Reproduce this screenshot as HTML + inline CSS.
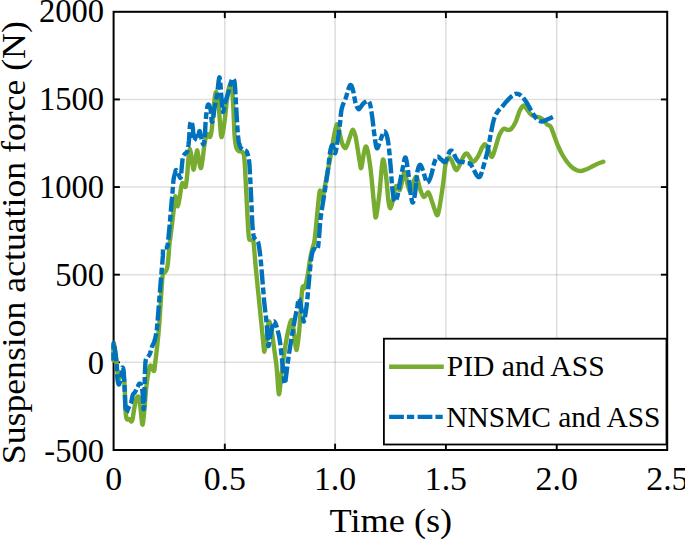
<!DOCTYPE html>
<html><head><meta charset="utf-8"><style>
html,body{margin:0;padding:0;background:#fff;}
body{width:685px;height:540px;overflow:hidden;font-family:"Liberation Serif",serif;}
svg{display:block;}
</style></head><body>
<svg width="685" height="540" viewBox="0 0 685 540">
<rect width="685" height="540" fill="#fff"/>
<line x1="224.80" y1="11.80" x2="224.80" y2="450.00" stroke="#262626" stroke-opacity="0.15" stroke-width="1.6"/>
<line x1="335.10" y1="11.80" x2="335.10" y2="450.00" stroke="#262626" stroke-opacity="0.15" stroke-width="1.6"/>
<line x1="445.90" y1="11.80" x2="445.90" y2="450.00" stroke="#262626" stroke-opacity="0.15" stroke-width="1.6"/>
<line x1="556.70" y1="11.80" x2="556.70" y2="450.00" stroke="#262626" stroke-opacity="0.15" stroke-width="1.6"/>
<line x1="113.60" y1="362.30" x2="667.20" y2="362.30" stroke="#262626" stroke-opacity="0.15" stroke-width="1.6"/>
<line x1="113.60" y1="274.68" x2="667.20" y2="274.68" stroke="#262626" stroke-opacity="0.15" stroke-width="1.6"/>
<line x1="113.60" y1="187.05" x2="667.20" y2="187.05" stroke="#262626" stroke-opacity="0.15" stroke-width="1.6"/>
<line x1="113.60" y1="99.43" x2="667.20" y2="99.43" stroke="#262626" stroke-opacity="0.15" stroke-width="1.6"/>
<rect x="113.60" y="11.80" width="553.60" height="438.20" fill="none" stroke="#000" stroke-width="2.0"/>
<line x1="224.80" y1="450.00" x2="224.80" y2="443.70" stroke="#000" stroke-width="1.9"/>
<line x1="224.80" y1="11.80" x2="224.80" y2="18.10" stroke="#000" stroke-width="1.9"/>
<line x1="335.10" y1="450.00" x2="335.10" y2="443.70" stroke="#000" stroke-width="1.9"/>
<line x1="335.10" y1="11.80" x2="335.10" y2="18.10" stroke="#000" stroke-width="1.9"/>
<line x1="445.90" y1="450.00" x2="445.90" y2="443.70" stroke="#000" stroke-width="1.9"/>
<line x1="445.90" y1="11.80" x2="445.90" y2="18.10" stroke="#000" stroke-width="1.9"/>
<line x1="556.70" y1="450.00" x2="556.70" y2="443.70" stroke="#000" stroke-width="1.9"/>
<line x1="556.70" y1="11.80" x2="556.70" y2="18.10" stroke="#000" stroke-width="1.9"/>
<line x1="113.60" y1="362.30" x2="119.90" y2="362.30" stroke="#000" stroke-width="1.9"/>
<line x1="667.20" y1="362.30" x2="660.90" y2="362.30" stroke="#000" stroke-width="1.9"/>
<line x1="113.60" y1="274.68" x2="119.90" y2="274.68" stroke="#000" stroke-width="1.9"/>
<line x1="667.20" y1="274.68" x2="660.90" y2="274.68" stroke="#000" stroke-width="1.9"/>
<line x1="113.60" y1="187.05" x2="119.90" y2="187.05" stroke="#000" stroke-width="1.9"/>
<line x1="667.20" y1="187.05" x2="660.90" y2="187.05" stroke="#000" stroke-width="1.9"/>
<line x1="113.60" y1="99.43" x2="119.90" y2="99.43" stroke="#000" stroke-width="1.9"/>
<line x1="667.20" y1="99.43" x2="660.90" y2="99.43" stroke="#000" stroke-width="1.9"/>
<path d="M113.50,360.50 C113.53,357.58 113.23,343.08 113.70,343.00 C114.17,342.92 115.75,355.83 116.30,360.00 C116.85,364.17 116.72,365.42 117.00,368.00 C117.28,370.58 117.50,373.83 118.00,375.50 C118.50,377.17 119.25,378.17 120.00,378.00 C120.75,377.83 121.83,374.50 122.50,374.50 C123.17,374.50 123.62,375.42 124.00,378.00 C124.38,380.58 124.55,384.67 124.80,390.00 C125.05,395.33 125.22,405.25 125.50,410.00 C125.78,414.75 126.08,416.92 126.50,418.50 C126.92,420.08 127.50,419.42 128.00,419.50 C128.50,419.58 129.00,418.67 129.50,419.00 C130.00,419.33 130.50,421.42 131.00,421.50 C131.50,421.58 132.00,421.42 132.50,419.50 C133.00,417.58 133.42,413.25 134.00,410.00 C134.58,406.75 135.33,402.25 136.00,400.00 C136.67,397.75 137.42,396.50 138.00,396.50 C138.58,396.50 139.00,397.25 139.50,400.00 C140.00,402.75 140.53,408.92 141.00,413.00 C141.47,417.08 141.88,423.50 142.30,424.50 C142.72,425.50 143.08,422.25 143.50,419.00 C143.92,415.75 144.42,409.50 144.80,405.00 C145.18,400.50 145.43,396.00 145.80,392.00 C146.17,388.00 146.55,384.33 147.00,381.00 C147.45,377.67 148.00,374.50 148.50,372.00 C149.00,369.50 149.50,366.92 150.00,366.00 C150.50,365.08 151.00,365.83 151.50,366.50 C152.00,367.17 152.53,369.33 153.00,370.00 C153.47,370.67 153.92,371.83 154.30,370.50 C154.68,369.17 154.97,364.75 155.30,362.00 C155.63,359.25 155.93,357.17 156.30,354.00 C156.67,350.83 157.13,346.50 157.50,343.00 C157.87,339.50 158.17,336.67 158.50,333.00 C158.83,329.33 159.05,327.43 159.50,321.00 C159.95,314.57 160.65,302.17 161.20,294.40 C161.75,286.63 162.17,278.10 162.80,274.40 C163.43,270.70 164.27,273.30 165.00,272.20 C165.73,271.10 166.65,270.02 167.20,267.80 C167.75,265.58 167.93,262.70 168.30,258.90 C168.67,255.10 169.02,248.82 169.40,245.00 C169.78,241.18 170.22,239.05 170.60,236.00 C170.98,232.95 171.25,230.48 171.70,226.70 C172.15,222.92 172.75,217.92 173.30,213.30 C173.85,208.68 174.62,201.77 175.00,199.00 C175.38,196.23 175.23,195.60 175.60,196.70 C175.97,197.80 176.75,204.32 177.20,205.60 C177.65,206.88 177.83,206.07 178.30,204.40 C178.77,202.73 179.53,198.37 180.00,195.60 C180.47,192.83 180.73,189.85 181.10,187.80 C181.47,185.75 181.73,183.87 182.20,183.30 C182.67,182.73 183.33,183.83 183.90,184.40 C184.47,184.97 185.05,188.27 185.60,186.70 C186.15,185.13 186.72,179.78 187.20,175.00 C187.68,170.22 188.03,162.33 188.50,158.00 C188.97,153.67 189.43,148.78 190.00,149.00 C190.57,149.22 191.33,155.87 191.90,159.30 C192.47,162.73 192.85,169.12 193.40,169.60 C193.95,170.08 194.60,165.40 195.20,162.20 C195.80,159.00 196.38,150.88 197.00,150.40 C197.62,149.92 198.27,156.35 198.90,159.30 C199.53,162.25 200.18,168.10 200.80,168.10 C201.42,168.10 202.00,163.25 202.60,159.30 C203.20,155.35 203.90,147.87 204.40,144.40 C204.90,140.93 205.03,140.23 205.60,138.50 C206.17,136.77 207.07,134.25 207.80,134.00 C208.53,133.75 209.35,137.67 210.00,137.00 C210.65,136.33 211.12,134.50 211.70,130.00 C212.28,125.50 212.95,115.75 213.50,110.00 C214.05,104.25 214.57,98.50 215.00,95.50 C215.43,92.50 215.72,92.08 216.10,92.00 C216.48,91.92 216.90,93.17 217.30,95.00 C217.70,96.83 217.97,97.17 218.50,103.00 C219.03,108.83 220.02,124.33 220.50,130.00 C220.98,135.67 220.98,136.67 221.40,137.00 C221.82,137.33 222.40,135.20 223.00,132.00 C223.60,128.80 224.25,123.97 225.00,117.80 C225.75,111.63 226.63,100.57 227.50,95.00 C228.37,89.43 229.45,85.57 230.20,84.40 C230.95,83.23 231.47,83.90 232.00,88.00 C232.53,92.10 232.97,101.10 233.40,109.00 C233.83,116.90 234.12,128.95 234.60,135.40 C235.08,141.85 235.57,145.07 236.30,147.70 C237.03,150.33 237.97,150.48 239.00,151.20 C240.03,151.92 241.67,151.20 242.50,152.00 C243.33,152.80 243.58,153.33 244.00,156.00 C244.42,158.67 244.52,159.87 245.00,168.00 C245.48,176.13 246.28,193.47 246.90,204.80 C247.52,216.13 248.07,230.17 248.70,236.00 C249.33,241.83 249.93,238.97 250.70,239.80 C251.47,240.63 252.65,238.63 253.30,241.00 C253.95,243.37 254.15,249.17 254.60,254.00 C255.05,258.83 255.17,261.33 256.00,270.00 C256.83,278.67 258.40,293.97 259.60,306.00 C260.80,318.03 262.38,334.58 263.20,342.20 C264.02,349.82 263.95,352.07 264.50,351.70 C265.05,351.33 265.88,344.62 266.50,340.00 C267.12,335.38 267.73,327.07 268.20,324.00 C268.67,320.93 268.92,321.43 269.30,321.60 C269.68,321.77 270.05,323.10 270.50,325.00 C270.95,326.90 271.38,329.00 272.00,333.00 C272.62,337.00 273.45,343.50 274.20,349.00 C274.95,354.50 275.80,359.10 276.50,366.00 C277.20,372.90 277.92,385.93 278.40,390.40 C278.88,394.87 278.92,395.20 279.40,392.80 C279.88,390.40 280.20,384.43 281.30,376.00 C282.40,367.57 284.38,351.43 286.00,342.20 C287.62,332.97 289.78,323.00 291.00,320.60 C292.22,318.20 292.52,323.40 293.30,327.80 C294.08,332.20 295.08,343.60 295.70,347.00 C296.32,350.40 296.40,351.03 297.00,348.20 C297.60,345.37 298.48,339.33 299.30,330.00 C300.12,320.67 301.23,299.48 301.90,292.20 C302.57,284.92 302.82,287.03 303.30,286.30 C303.78,285.57 304.05,289.78 304.80,287.80 C305.55,285.82 306.93,279.10 307.80,274.40 C308.67,269.70 309.27,263.78 310.00,259.60 C310.73,255.42 311.43,252.57 312.20,249.30 C312.97,246.03 313.80,245.55 314.60,240.00 C315.40,234.45 316.20,223.83 317.00,216.00 C317.80,208.17 318.80,197.03 319.40,193.00 C320.00,188.97 320.12,190.80 320.60,191.80 C321.08,192.80 321.68,199.40 322.30,199.00 C322.92,198.60 323.37,194.20 324.30,189.40 C325.23,184.60 326.70,176.60 327.90,170.20 C329.10,163.80 330.50,156.62 331.50,151.00 C332.50,145.38 333.10,140.67 333.90,136.50 C334.70,132.33 335.70,127.92 336.30,126.00 C336.90,124.08 336.90,123.67 337.50,125.00 C338.10,126.33 339.10,130.88 339.90,134.00 C340.70,137.12 341.32,141.40 342.30,143.70 C343.28,146.00 344.52,148.97 345.80,147.80 C347.08,146.63 348.83,139.72 350.00,136.70 C351.17,133.68 351.87,129.70 352.80,129.70 C353.73,129.70 354.45,131.37 355.60,136.70 C356.75,142.03 358.75,156.52 359.70,161.70 C360.65,166.88 360.60,169.20 361.30,167.80 C362.00,166.40 363.03,156.77 363.90,153.30 C364.77,149.83 365.42,144.58 366.50,147.00 C367.58,149.42 369.10,157.85 370.40,167.80 C371.70,177.75 373.37,198.50 374.30,206.70 C375.23,214.90 375.15,219.17 376.00,217.00 C376.85,214.83 378.27,203.20 379.40,193.70 C380.53,184.20 381.70,163.02 382.80,160.00 C383.90,156.98 385.05,168.68 386.00,175.60 C386.95,182.52 387.75,196.05 388.50,201.50 C389.25,206.95 389.80,208.38 390.50,208.30 C391.20,208.22 392.03,203.88 392.70,201.00 C393.37,198.12 393.90,193.50 394.50,191.00 C395.10,188.50 395.72,186.50 396.30,186.00 C396.88,185.50 397.42,187.33 398.00,188.00 C398.58,188.67 399.22,190.67 399.80,190.00 C400.38,189.33 400.97,186.17 401.50,184.00 C402.03,181.83 402.45,179.00 403.00,177.00 C403.55,175.00 403.97,170.50 404.80,172.00 C405.63,173.50 407.03,182.83 408.00,186.00 C408.97,189.17 409.53,192.08 410.60,191.00 C411.67,189.92 413.33,181.75 414.40,179.50 C415.47,177.25 416.05,175.88 417.00,177.50 C417.95,179.12 418.93,185.95 420.10,189.20 C421.27,192.45 422.65,196.48 424.00,197.00 C425.35,197.52 426.98,191.90 428.20,192.30 C429.42,192.70 430.10,196.18 431.30,199.40 C432.50,202.62 434.32,209.05 435.40,211.60 C436.48,214.15 436.95,216.38 437.80,214.70 C438.65,213.02 439.55,207.12 440.50,201.50 C441.45,195.88 442.67,187.12 443.50,181.00 C444.33,174.88 444.65,168.68 445.50,164.80 C446.35,160.92 447.57,158.38 448.60,157.70 C449.63,157.02 450.68,159.00 451.70,160.70 C452.72,162.40 453.85,166.37 454.70,167.90 C455.55,169.43 455.95,170.42 456.80,169.90 C457.65,169.38 458.62,167.18 459.80,164.80 C460.98,162.42 462.70,157.47 463.90,155.60 C465.10,153.73 465.98,153.25 467.00,153.60 C468.02,153.95 469.00,156.33 470.00,157.70 C471.00,159.07 471.70,161.97 473.00,161.80 C474.30,161.63 476.27,159.08 477.80,156.70 C479.33,154.32 480.95,149.55 482.20,147.50 C483.45,145.45 484.18,143.82 485.30,144.40 C486.42,144.98 487.75,148.95 488.90,151.00 C490.05,153.05 490.90,157.98 492.20,156.70 C493.50,155.42 495.50,146.92 496.70,143.30 C497.90,139.68 498.27,137.40 499.40,135.00 C500.53,132.60 502.13,129.75 503.50,128.90 C504.87,128.05 506.30,129.90 507.60,129.90 C508.90,129.90 509.95,130.25 511.30,128.90 C512.65,127.55 514.28,124.87 515.70,121.80 C517.12,118.73 518.43,113.22 519.80,110.50 C521.17,107.78 522.70,105.67 523.90,105.50 C525.10,105.33 525.82,107.98 527.00,109.50 C528.18,111.02 529.48,113.40 531.00,114.60 C532.52,115.80 534.57,116.18 536.10,116.70 C537.63,117.22 538.85,117.03 540.20,117.70 C541.55,118.37 543.02,119.52 544.20,120.70 C545.38,121.88 546.50,124.00 547.30,124.80 C548.10,125.60 548.37,125.05 549.00,125.50 C549.63,125.95 550.10,125.42 551.10,127.50 C552.10,129.58 553.80,134.83 555.00,138.00 C556.20,141.17 557.05,143.67 558.30,146.50 C559.55,149.33 560.97,152.33 562.50,155.00 C564.03,157.67 565.83,160.37 567.50,162.50 C569.17,164.63 570.83,166.47 572.50,167.80 C574.17,169.13 576.00,169.97 577.50,170.50 C579.00,171.03 579.97,171.22 581.50,171.00 C583.03,170.78 585.00,169.92 586.70,169.20 C588.40,168.48 590.03,167.53 591.70,166.70 C593.37,165.87 595.18,164.90 596.70,164.20 C598.22,163.50 599.70,162.92 600.80,162.50 C601.90,162.08 602.88,161.83 603.30,161.70" fill="none" stroke="#77AC30" stroke-width="4.4" stroke-linejoin="round" stroke-linecap="round"/>
<path d="M113.50,360.50 113.50,358.91 113.48,356.55 113.45,353.70 113.44,350.69 113.44,347.80 113.48,345.36 113.56,343.66 113.70,343.00 113.92,343.52 114.23,344.99 114.59,347.16 114.97,349.78 115.37,352.62 115.73,355.43 116.05,357.97 116.30,360.00 116.47,361.58 116.59,362.99 116.67,364.26 116.72,365.44 116.76,366.56 116.79,367.66 116.83,368.80 116.90,370.00 116.98,371.29 117.05,372.63 117.12,373.99 117.20,375.34 117.28,376.65 117.37,377.89 117.48,379.01 117.60,380.00 117.74,380.90 117.89,381.77 118.06,382.57 118.23,383.28 118.41,383.86 118.61,384.28 118.80,384.50 119.00,384.50 119.21,384.24 119.43,383.73 119.66,383.02 119.90,382.16 120.14,381.18 120.37,380.13 120.59,379.06 120.80,378.00 120.99,376.84 121.18,375.46 121.36,373.98 121.53,372.47 121.70,371.02 121.87,369.74 122.03,368.70 122.20,368.00 122.37,367.62 122.55,367.47 122.72,367.52 122.89,367.75 123.06,368.14 123.22,368.66 123.37,369.29 123.50,370.00 123.62,370.85 123.72,371.87 123.81,373.03 123.89,374.31 123.97,375.68 124.05,377.10 124.12,378.55 124.20,380.00 124.28,381.49 124.36,383.06 124.44,384.70 124.51,386.38 124.59,388.07 124.66,389.75 124.73,391.40 124.80,393.00 124.86,394.58 124.92,396.18 124.97,397.77 125.02,399.34 125.08,400.87 125.14,402.34 125.21,403.72 125.30,405.00 125.39,406.23 125.49,407.46 125.60,408.65 125.71,409.75 125.84,410.73 125.97,411.54 126.13,412.14 126.30,412.50 126.49,412.56 126.69,412.34 126.91,411.91 127.14,411.31 127.38,410.62 127.64,409.88 127.91,409.15 128.20,408.50 128.51,407.90 128.86,407.29 129.23,406.66 129.61,406.00 129.98,405.31 130.35,404.59 130.69,403.82 131.00,403.00 131.27,402.09 131.51,401.06 131.73,399.96 131.93,398.84 132.13,397.74 132.34,396.71 132.56,395.78 132.80,395.00 133.06,394.40 133.34,393.94 133.63,393.58 133.92,393.29 134.22,393.02 134.51,392.75 134.81,392.42 135.10,392.00 135.39,391.50 135.68,390.94 135.98,390.35 136.28,389.74 136.57,389.13 136.85,388.52 137.13,387.94 137.40,387.40 137.66,386.86 137.91,386.29 138.15,385.73 138.39,385.18 138.62,384.68 138.85,384.25 139.07,383.92 139.30,383.70 139.52,383.60 139.75,383.59 139.97,383.66 140.19,383.81 140.40,384.02 140.61,384.30 140.81,384.63 141.00,385.00 141.19,385.41 141.37,385.87 141.54,386.38 141.71,386.96 141.87,387.60 142.03,388.31 142.17,389.11 142.30,390.00 142.42,391.02 142.52,392.17 142.62,393.43 142.70,394.75 142.78,396.10 142.85,397.45 142.93,398.76 143.00,400.00 143.07,401.26 143.13,402.62 143.19,404.02 143.25,405.38 143.31,406.62 143.37,407.69 143.43,408.50 143.50,409.00 143.58,409.23 143.67,409.29 143.76,409.16 143.86,408.81 143.95,408.24 144.04,407.43 144.13,406.35 144.20,405.00 144.26,403.26 144.32,401.10 144.36,398.63 144.41,395.94 144.45,393.13 144.49,390.30 144.54,387.56 144.60,385.00 144.66,382.50 144.73,379.90 144.80,377.27 144.88,374.69 144.95,372.20 145.03,369.88 145.11,367.79 145.20,366.00 145.29,364.51 145.37,363.28 145.45,362.25 145.54,361.41 145.64,360.69 145.75,360.08 145.87,359.53 146.00,359.00 146.15,358.57 146.30,358.30 146.47,358.14 146.64,358.06 146.83,358.00 147.04,357.92 147.26,357.77 147.50,357.50 147.77,357.14 148.06,356.76 148.37,356.34 148.70,355.88 149.03,355.37 149.37,354.80 149.69,354.18 150.00,353.50 150.30,352.70 150.60,351.78 150.90,350.77 151.20,349.72 151.49,348.67 151.77,347.68 152.04,346.77 152.30,346.00 152.54,345.38 152.77,344.89 152.99,344.48 153.20,344.12 153.40,343.78 153.60,343.42 153.80,343.01 154.00,342.50 154.20,341.93 154.39,341.35 154.58,340.74 154.76,340.09 154.95,339.41 155.13,338.67 155.31,337.87 155.50,337.00 155.69,336.09 155.88,335.16 156.07,334.19 156.26,333.16 156.45,332.04 156.64,330.82 156.82,329.48 157.00,328.00 157.17,326.42 157.32,324.79 157.46,323.07 157.60,321.23 157.75,319.24 157.91,317.06 158.09,314.66 158.30,312.00 158.55,308.91 158.83,305.36 159.14,301.49 159.46,297.48 159.78,293.49 160.09,289.69 160.36,286.24 160.60,283.30 160.79,280.90 160.96,278.89 161.10,277.18 161.22,275.69 161.34,274.31 161.45,272.96 161.57,271.56 161.70,270.00 161.84,268.30 161.99,266.55 162.14,264.78 162.29,263.02 162.44,261.31 162.57,259.66 162.70,258.11 162.80,256.70 162.87,255.39 162.90,254.15 162.92,252.97 162.93,251.89 162.94,250.90 162.98,250.01 163.06,249.24 163.20,248.60 163.40,248.13 163.65,247.83 163.94,247.67 164.26,247.61 164.58,247.60 164.91,247.60 165.22,247.58 165.50,247.50 165.76,247.41 166.03,247.37 166.29,247.36 166.54,247.34 166.79,247.27 167.01,247.13 167.22,246.89 167.40,246.50 167.55,245.97 167.67,245.34 167.77,244.62 167.86,243.81 167.93,242.94 168.01,242.00 168.10,241.02 168.20,240.00 168.32,238.92 168.44,237.75 168.56,236.51 168.69,235.22 168.82,233.90 168.95,232.58 169.08,231.27 169.20,230.00 169.32,228.76 169.43,227.55 169.54,226.34 169.65,225.12 169.76,223.90 169.87,222.64 169.98,221.35 170.10,220.00 170.22,218.59 170.34,217.12 170.47,215.60 170.59,214.06 170.72,212.51 170.85,210.98 170.97,209.47 171.10,208.00 171.23,206.58 171.35,205.18 171.48,203.80 171.61,202.44 171.73,201.08 171.86,199.73 171.98,198.37 172.10,197.00 172.22,195.60 172.34,194.15 172.46,192.69 172.57,191.23 172.69,189.81 172.80,188.45 172.90,187.17 173.00,186.00 173.08,184.95 173.15,184.01 173.21,183.14 173.27,182.34 173.33,181.57 173.40,180.83 173.49,180.07 173.60,179.30 173.74,178.50 173.90,177.69 174.08,176.88 174.27,176.09 174.46,175.32 174.65,174.59 174.83,173.92 175.00,173.30 175.15,172.72 175.28,172.14 175.40,171.59 175.52,171.09 175.64,170.66 175.78,170.32 175.93,170.09 176.10,170.00 176.29,170.06 176.50,170.26 176.72,170.58 176.96,170.99 177.20,171.47 177.46,171.98 177.72,172.50 178.00,173.00 178.30,173.62 178.64,174.42 178.99,175.32 179.35,176.21 179.70,177.00 180.04,177.60 180.34,177.90 180.60,177.80 180.81,177.26 180.98,176.34 181.12,175.13 181.24,173.72 181.35,172.20 181.46,170.65 181.57,169.15 181.70,167.80 181.83,166.50 181.96,165.15 182.09,163.76 182.22,162.39 182.35,161.07 182.49,159.84 182.64,158.73 182.80,157.80 182.97,157.05 183.15,156.46 183.33,155.99 183.53,155.61 183.73,155.30 183.94,155.01 184.16,154.72 184.40,154.40 184.66,154.08 184.95,153.79 185.26,153.54 185.58,153.29 185.89,153.05 186.19,152.80 186.47,152.52 186.70,152.20 186.89,151.87 187.06,151.56 187.20,151.25 187.32,150.91 187.44,150.52 187.55,150.07 187.67,149.54 187.80,148.90 187.94,148.19 188.08,147.43 188.21,146.62 188.35,145.73 188.49,144.74 188.62,143.64 188.76,142.40 188.90,141.00 189.03,139.32 189.17,137.32 189.29,135.12 189.43,132.84 189.56,130.59 189.70,128.48 189.84,126.65 190.00,125.20 190.17,124.08 190.35,123.15 190.53,122.41 190.72,121.86 190.92,121.49 191.12,121.31 191.31,121.32 191.50,121.50 191.69,121.93 191.89,122.64 192.10,123.57 192.30,124.67 192.50,125.88 192.68,127.14 192.85,128.40 193.00,129.60 193.12,130.87 193.21,132.32 193.29,133.85 193.35,135.40 193.41,136.87 193.49,138.18 193.58,139.25 193.70,140.00 193.85,140.41 194.02,140.56 194.20,140.50 194.40,140.27 194.60,139.91 194.81,139.46 195.01,138.98 195.20,138.50 195.39,137.91 195.58,137.13 195.77,136.22 195.96,135.27 196.14,134.35 196.33,133.55 196.52,132.94 196.70,132.60 196.88,132.60 197.05,132.90 197.23,133.40 197.40,134.01 197.57,134.63 197.75,135.17 197.92,135.52 198.10,135.60 198.28,135.33 198.47,134.76 198.66,134.00 198.84,133.17 199.03,132.36 199.22,131.67 199.41,131.22 199.60,131.10 199.78,131.33 199.96,131.81 200.13,132.48 200.31,133.31 200.49,134.22 200.68,135.18 200.88,136.12 201.10,137.00 201.35,137.95 201.62,139.09 201.90,140.32 202.20,141.53 202.50,142.64 202.78,143.56 203.05,144.17 203.30,144.40 203.53,144.23 203.74,143.76 203.94,143.03 204.14,142.09 204.32,140.97 204.49,139.72 204.65,138.38 204.80,137.00 204.93,135.49 205.04,133.79 205.12,131.93 205.21,129.97 205.29,127.97 205.37,125.97 205.48,124.03 205.60,122.20 205.75,120.41 205.91,118.56 206.08,116.72 206.26,114.91 206.44,113.18 206.63,111.57 206.82,110.13 207.00,108.90 207.18,107.84 207.35,106.91 207.52,106.11 207.70,105.44 207.88,104.93 208.07,104.58 208.28,104.40 208.50,104.40 208.75,104.61 209.03,105.05 209.33,105.67 209.63,106.44 209.93,107.33 210.22,108.31 210.48,109.34 210.70,110.40 210.88,111.62 211.03,113.08 211.15,114.70 211.26,116.35 211.36,117.94 211.46,119.37 211.57,120.52 211.70,121.30 211.85,121.72 212.00,121.90 212.16,121.86 212.33,121.62 212.49,121.22 212.66,120.69 212.83,120.04 213.00,119.30 213.16,118.43 213.31,117.40 213.46,116.21 213.62,114.90 213.78,113.50 213.96,112.03 214.17,110.52 214.40,109.00 214.67,107.45 214.97,105.85 215.29,104.18 215.63,102.46 215.98,100.68 216.33,98.85 216.67,96.95 217.00,95.00 217.32,92.71 217.65,89.97 217.97,87.00 218.29,84.06 218.61,81.38 218.92,79.20 219.22,77.76 219.50,77.30 219.77,77.98 220.02,79.64 220.27,82.04 220.51,84.94 220.74,88.09 220.96,91.27 221.18,94.22 221.40,96.70 221.61,98.97 221.81,101.38 222.00,103.81 222.19,106.12 222.38,108.22 222.58,109.98 222.78,111.28 223.00,112.00 223.23,112.02 223.47,111.39 223.72,110.27 223.97,108.83 224.23,107.22 224.49,105.61 224.75,104.15 225.00,103.00 225.25,102.12 225.49,101.34 225.73,100.62 225.97,99.94 226.22,99.26 226.47,98.57 226.73,97.83 227.00,97.00 227.29,96.09 227.59,95.12 227.91,94.10 228.23,93.06 228.54,92.01 228.85,90.98 229.14,89.97 229.40,89.00 229.64,88.05 229.85,87.09 230.04,86.14 230.23,85.21 230.41,84.31 230.59,83.47 230.79,82.69 231.00,82.00 231.23,81.35 231.48,80.71 231.73,80.11 231.99,79.58 232.25,79.15 232.50,78.83 232.76,78.68 233.00,78.70 233.24,78.82 233.47,78.96 233.70,79.19 233.93,79.58 234.16,80.19 234.38,81.09 234.59,82.34 234.80,84.00 235.00,86.17 235.19,88.83 235.38,91.87 235.56,95.18 235.74,98.66 235.92,102.19 236.10,105.67 236.30,109.00 236.50,112.34 236.71,115.87 236.91,119.49 237.12,123.10 237.34,126.60 237.56,129.88 237.78,132.85 238.00,135.40 238.22,137.53 238.44,139.33 238.67,140.85 238.89,142.14 239.13,143.25 239.37,144.23 239.63,145.13 239.90,146.00 240.19,146.78 240.48,147.40 240.78,147.89 241.10,148.28 241.43,148.59 241.77,148.86 242.13,149.12 242.50,149.40 242.91,149.66 243.36,149.85 243.83,149.99 244.31,150.11 244.79,150.23 245.24,150.37 245.65,150.55 246.00,150.80 246.29,151.08 246.53,151.36 246.74,151.66 246.92,151.99 247.08,152.37 247.24,152.82 247.41,153.36 247.60,154.00 247.80,154.70 248.01,155.43 248.22,156.21 248.43,157.07 248.64,158.06 248.84,159.18 249.02,160.49 249.20,162.00 249.36,163.72 249.51,165.63 249.64,167.71 249.77,169.94 249.90,172.30 250.03,174.77 250.16,177.35 250.30,180.00 250.45,182.80 250.60,185.80 250.75,188.95 250.90,192.19 251.05,195.46 251.20,198.73 251.35,201.92 251.50,205.00 251.64,208.07 251.77,211.22 251.91,214.39 252.04,217.50 252.17,220.49 252.31,223.28 252.45,225.81 252.60,228.00 252.75,229.83 252.90,231.36 253.05,232.64 253.21,233.72 253.38,234.64 253.57,235.46 253.77,236.23 254.00,237.00 254.26,237.70 254.56,238.27 254.88,238.73 255.21,239.11 255.55,239.45 255.88,239.77 256.20,240.11 256.50,240.50 256.77,240.83 257.03,241.04 257.28,241.19 257.52,241.36 257.76,241.63 258.00,242.06 258.25,242.72 258.50,243.70 258.76,244.99 259.02,246.54 259.29,248.30 259.56,250.24 259.83,252.31 260.09,254.49 260.35,256.73 260.60,259.00 260.84,261.33 261.07,263.79 261.29,266.34 261.51,268.98 261.72,271.68 261.94,274.43 262.17,277.21 262.40,280.00 262.64,282.88 262.89,285.91 263.14,289.01 263.39,292.14 263.65,295.24 263.90,298.23 264.15,301.07 264.40,303.70 264.65,306.10 264.90,308.33 265.15,310.41 265.40,312.39 265.64,314.31 265.88,316.19 266.10,318.08 266.30,320.00 266.48,321.96 266.65,323.94 266.81,325.90 266.96,327.83 267.10,329.73 267.23,331.56 267.36,333.33 267.50,335.00 267.63,336.70 267.75,338.48 267.87,340.25 267.98,341.94 268.10,343.44 268.22,344.68 268.35,345.56 268.50,346.00 268.66,345.92 268.83,345.37 269.01,344.46 269.19,343.28 269.39,341.94 269.59,340.55 269.79,339.20 270.00,338.00 270.22,336.86 270.45,335.66 270.70,334.42 270.94,333.16 271.19,331.91 271.44,330.70 271.67,329.55 271.90,328.50 272.12,327.50 272.32,326.50 272.53,325.54 272.73,324.62 272.92,323.79 273.11,323.06 273.31,322.46 273.50,322.00 273.69,321.69 273.87,321.52 274.05,321.46 274.23,321.50 274.41,321.64 274.59,321.86 274.79,322.15 275.00,322.50 275.22,322.89 275.44,323.32 275.67,323.82 275.91,324.41 276.15,325.10 276.42,325.91 276.70,326.87 277.00,328.00 277.32,329.22 277.67,330.48 278.03,331.84 278.41,333.34 278.79,335.06 279.19,337.04 279.59,339.33 280.00,342.00 280.43,345.29 280.89,349.26 281.37,353.67 281.85,358.28 282.32,362.86 282.76,367.16 283.16,370.95 283.50,374.00 283.77,376.45 283.97,378.58 284.13,380.38 284.27,381.82 284.39,382.88 284.53,383.53 284.69,383.74 284.90,383.50 285.15,382.63 285.43,381.07 285.73,378.99 286.04,376.55 286.36,373.90 286.68,371.20 286.99,368.62 287.30,366.30 287.59,364.21 287.87,362.16 288.15,360.15 288.43,358.12 288.71,356.07 289.02,353.95 289.34,351.74 289.70,349.40 290.09,346.91 290.51,344.28 290.96,341.54 291.42,338.75 291.89,335.94 292.36,333.15 292.84,330.42 293.30,327.80 293.77,325.21 294.25,322.59 294.74,319.97 295.23,317.40 295.71,314.93 296.17,312.59 296.60,310.43 297.00,308.50 297.34,306.64 297.64,304.75 297.90,302.93 298.15,301.30 298.40,299.97 298.66,299.05 298.96,298.66 299.30,298.90 299.71,300.03 300.19,302.05 300.69,304.69 301.22,307.69 301.73,310.79 302.22,313.72 302.65,316.21 303.00,318.00 303.26,319.22 303.45,320.19 303.58,320.90 303.68,321.35 303.77,321.54 303.87,321.46 304.01,321.11 304.20,320.50 304.45,319.54 304.73,318.19 305.03,316.54 305.36,314.64 305.68,312.57 306.01,310.39 306.32,308.18 306.60,306.00 306.86,303.76 307.12,301.36 307.37,298.84 307.61,296.26 307.84,293.67 308.06,291.11 308.29,288.64 308.50,286.30 308.71,284.08 308.90,281.92 309.09,279.81 309.27,277.75 309.46,275.74 309.63,273.78 309.82,271.87 310.00,270.00 310.18,268.15 310.36,266.33 310.53,264.53 310.71,262.79 310.89,261.12 311.08,259.54 311.28,258.06 311.50,256.70 311.73,255.44 311.97,254.26 312.21,253.17 312.46,252.17 312.73,251.27 313.03,250.49 313.35,249.83 313.70,249.30 314.11,249.02 314.57,249.02 315.07,249.22 315.59,249.49 316.11,249.74 316.59,249.86 317.03,249.75 317.40,249.30 317.69,248.57 317.93,247.67 318.11,246.61 318.27,245.39 318.42,244.00 318.56,242.46 318.72,240.76 318.90,238.90 319.09,236.84 319.26,234.55 319.43,232.07 319.61,229.45 319.81,226.72 320.03,223.93 320.29,221.11 320.60,218.30 320.97,215.46 321.39,212.54 321.85,209.55 322.33,206.52 322.83,203.46 323.34,200.39 323.83,197.33 324.30,194.30 324.76,191.26 325.24,188.17 325.71,185.05 326.18,181.95 326.64,178.88 327.09,175.88 327.51,172.98 327.90,170.20 328.26,167.48 328.58,164.75 328.89,162.06 329.18,159.47 329.45,157.02 329.73,154.76 330.01,152.73 330.30,151.00 330.60,149.52 330.90,148.24 331.20,147.15 331.50,146.28 331.80,145.62 332.10,145.19 332.40,144.98 332.70,145.00 333.00,145.49 333.30,146.55 333.60,147.96 333.90,149.53 334.20,151.05 334.50,152.32 334.80,153.14 335.10,153.30 335.40,152.80 335.70,151.84 336.00,150.50 336.30,148.88 336.60,147.05 336.90,145.12 337.20,143.17 337.50,141.30 337.80,139.41 338.11,137.39 338.43,135.26 338.74,133.07 339.04,130.85 339.34,128.64 339.63,126.48 339.90,124.40 340.14,122.37 340.34,120.32 340.52,118.29 340.69,116.29 340.88,114.33 341.10,112.43 341.37,110.62 341.70,108.90 342.10,107.31 342.56,105.85 343.06,104.48 343.60,103.16 344.15,101.87 344.71,100.57 345.27,99.22 345.80,97.80 346.33,96.19 346.88,94.38 347.43,92.49 347.98,90.60 348.52,88.83 349.05,87.29 349.54,86.08 350.00,85.30 350.42,84.95 350.80,84.93 351.15,85.19 351.49,85.70 351.81,86.42 352.13,87.30 352.46,88.31 352.80,89.40 353.15,90.73 353.50,92.38 353.85,94.26 354.21,96.26 354.56,98.26 354.91,100.18 355.25,101.89 355.60,103.30 355.95,104.44 356.31,105.44 356.66,106.29 357.02,107.02 357.37,107.64 357.70,108.15 358.01,108.57 358.30,108.90 358.55,109.13 358.74,109.23 358.91,109.22 359.08,109.11 359.25,108.92 359.44,108.67 359.69,108.35 360.00,108.00 360.37,107.55 360.79,106.95 361.25,106.26 361.74,105.53 362.25,104.78 362.79,104.09 363.34,103.48 363.90,103.00 364.50,102.57 365.15,102.11 365.83,101.67 366.52,101.31 367.21,101.08 367.87,101.03 368.47,101.22 369.00,101.70 369.45,102.47 369.85,103.48 370.19,104.71 370.51,106.12 370.80,107.72 371.09,109.46 371.38,111.33 371.70,113.30 372.03,115.50 372.36,117.99 372.68,120.68 373.01,123.48 373.33,126.31 373.65,129.06 373.98,131.66 374.30,134.00 374.62,136.25 374.92,138.57 375.22,140.86 375.53,143.01 375.84,144.93 376.17,146.51 376.52,147.67 376.90,148.30 377.32,148.28 377.76,147.66 378.23,146.58 378.72,145.18 379.21,143.61 379.71,142.01 380.21,140.53 380.70,139.30 381.19,138.15 381.68,136.86 382.18,135.53 382.68,134.24 383.17,133.11 383.66,132.21 384.14,131.64 384.60,131.50 385.06,131.76 385.51,132.32 385.95,133.16 386.39,134.26 386.81,135.62 387.23,137.20 387.62,139.00 388.00,141.00 388.36,143.33 388.71,146.07 389.05,149.11 389.37,152.34 389.68,155.66 389.97,158.94 390.24,162.09 390.50,165.00 390.74,167.75 390.95,170.47 391.14,173.14 391.31,175.75 391.48,178.26 391.65,180.66 391.82,182.91 392.00,185.00 392.19,186.93 392.37,188.74 392.55,190.42 392.74,191.97 392.92,193.41 393.11,194.72 393.30,195.92 393.50,197.00 393.70,197.98 393.90,198.86 394.10,199.64 394.30,200.29 394.51,200.80 394.73,201.17 394.96,201.37 395.20,201.40 395.46,201.25 395.73,200.94 396.01,200.47 396.30,199.85 396.60,199.09 396.90,198.18 397.20,197.15 397.50,196.00 397.80,194.66 398.10,193.11 398.41,191.39 398.72,189.55 399.03,187.64 399.35,185.72 399.67,183.82 400.00,182.00 400.34,180.21 400.68,178.38 401.04,176.52 401.39,174.68 401.75,172.86 402.11,171.09 402.46,169.39 402.80,167.80 403.13,166.16 403.46,164.38 403.79,162.59 404.11,160.90 404.43,159.42 404.75,158.27 405.08,157.55 405.40,157.40 405.73,157.85 406.05,158.80 406.38,160.18 406.71,161.90 407.04,163.87 407.36,166.00 407.68,168.20 408.00,170.40 408.31,172.76 408.62,175.46 408.92,178.36 409.23,181.36 409.52,184.34 409.82,187.18 410.11,189.77 410.40,192.00 410.68,193.97 410.96,195.83 411.24,197.54 411.51,199.07 411.78,200.37 412.05,201.40 412.33,202.12 412.60,202.50 412.88,202.48 413.16,202.07 413.45,201.34 413.73,200.34 414.01,199.15 414.29,197.82 414.55,196.42 414.80,195.00 415.05,193.38 415.30,191.43 415.55,189.27 415.79,187.03 416.01,184.86 416.21,182.87 416.37,181.21 416.50,180.00 416.57,179.34 416.60,179.16 416.58,179.30 416.54,179.62 416.50,180.00 416.47,180.28 416.46,180.33 416.50,180.00 416.57,179.29 416.64,178.32 416.73,177.16 416.84,175.89 416.96,174.57 417.11,173.26 417.29,172.05 417.50,171.00 417.75,170.01 418.03,168.96 418.34,167.93 418.68,166.95 419.03,166.09 419.38,165.41 419.74,164.96 420.10,164.80 420.46,164.96 420.82,165.39 421.19,166.05 421.57,166.89 421.95,167.85 422.33,168.89 422.72,169.96 423.10,171.00 423.49,172.13 423.89,173.44 424.30,174.87 424.71,176.32 425.11,177.74 425.50,179.04 425.86,180.15 426.20,181.00 426.50,181.61 426.75,182.07 426.98,182.39 427.20,182.56 427.42,182.61 427.65,182.52 427.90,182.32 428.20,182.00 428.54,181.54 428.90,180.93 429.29,180.19 429.69,179.32 430.10,178.36 430.51,177.30 430.91,176.18 431.30,175.00 431.68,173.68 432.05,172.17 432.43,170.54 432.80,168.84 433.17,167.16 433.55,165.54 433.92,164.07 434.30,162.80 434.68,161.68 435.04,160.63 435.41,159.67 435.78,158.80 436.16,158.05 436.55,157.44 436.96,156.99 437.40,156.70 437.87,156.65 438.36,156.83 438.87,157.20 439.39,157.69 439.93,158.24 440.46,158.80 440.99,159.31 441.50,159.70 442.00,160.09 442.50,160.58 443.00,161.09 443.50,161.57 444.00,161.95 444.50,162.16 445.00,162.13 445.50,161.80 446.01,161.04 446.54,159.88 447.07,158.43 447.61,156.83 448.13,155.22 448.64,153.72 449.13,152.47 449.60,151.60 450.04,151.07 450.45,150.74 450.84,150.58 451.22,150.58 451.59,150.70 451.96,150.93 452.32,151.24 452.70,151.60 453.08,152.08 453.45,152.74 453.83,153.53 454.20,154.39 454.57,155.29 454.95,156.17 455.32,156.99 455.70,157.70 456.08,158.34 456.47,158.96 456.86,159.56 457.25,160.13 457.64,160.65 458.03,161.11 458.42,161.50 458.80,161.80 459.17,161.99 459.53,162.06 459.88,162.06 460.24,161.99 460.60,161.91 460.98,161.83 461.37,161.78 461.80,161.80 462.26,161.88 462.75,161.98 463.26,162.10 463.78,162.24 464.31,162.38 464.85,162.53 465.38,162.67 465.90,162.80 466.42,162.90 466.96,162.98 467.49,163.04 468.03,163.11 468.56,163.21 469.07,163.34 469.55,163.53 470.00,163.80 470.40,164.13 470.77,164.51 471.10,164.93 471.41,165.40 471.73,165.92 472.05,166.49 472.41,167.12 472.80,167.80 473.24,168.60 473.73,169.54 474.23,170.57 474.76,171.64 475.28,172.69 475.78,173.66 476.26,174.52 476.70,175.20 477.10,175.74 477.47,176.19 477.82,176.56 478.15,176.84 478.47,177.03 478.78,177.12 479.09,177.11 479.40,177.00 479.70,176.77 479.99,176.44 480.27,175.99 480.55,175.46 480.83,174.83 481.11,174.12 481.40,173.34 481.70,172.50 482.01,171.58 482.33,170.56 482.65,169.46 482.98,168.28 483.32,167.04 483.67,165.74 484.03,164.39 484.40,163.00 484.79,161.58 485.20,160.11 485.63,158.59 486.06,157.02 486.50,155.38 486.94,153.67 487.38,151.88 487.80,150.00 488.22,147.97 488.64,145.77 489.07,143.45 489.49,141.08 489.90,138.71 490.31,136.40 490.71,134.21 491.10,132.20 491.47,130.33 491.82,128.54 492.16,126.84 492.49,125.21 492.82,123.66 493.16,122.19 493.52,120.80 493.90,119.50 494.29,118.30 494.69,117.22 495.09,116.23 495.51,115.31 495.94,114.45 496.40,113.63 496.88,112.82 497.40,112.00 497.96,111.20 498.56,110.46 499.20,109.75 499.85,109.06 500.52,108.39 501.19,107.71 501.85,107.02 502.50,106.30 503.14,105.55 503.77,104.77 504.41,103.98 505.05,103.19 505.69,102.40 506.33,101.64 506.96,100.90 507.60,100.20 508.25,99.53 508.91,98.86 509.57,98.20 510.23,97.58 510.88,96.98 511.52,96.43 512.12,95.93 512.70,95.50 513.23,95.12 513.73,94.78 514.19,94.49 514.64,94.24 515.08,94.05 515.53,93.91 516.00,93.82 516.50,93.80 517.02,93.83 517.56,93.90 518.10,94.02 518.66,94.19 519.22,94.43 519.80,94.74 520.39,95.13 521.00,95.60 521.62,96.16 522.27,96.81 522.93,97.54 523.61,98.34 524.28,99.20 524.96,100.10 525.64,101.04 526.30,102.00 526.95,103.02 527.61,104.12 528.26,105.27 528.91,106.46 529.55,107.66 530.20,108.85 530.85,110.01 531.50,111.10 532.15,112.17 532.80,113.26 533.45,114.35 534.10,115.41 534.75,116.41 535.40,117.35 536.05,118.18 536.70,118.90 537.35,119.50 538.00,120.02 538.65,120.45 539.31,120.81 539.96,121.08 540.61,121.29 541.25,121.43 541.90,121.50 542.54,121.48 543.16,121.36 543.78,121.15 544.41,120.87 545.03,120.56 545.67,120.23 546.32,119.90 547.00,119.60 547.74,119.29 548.56,118.94 549.41,118.56 550.27,118.18 551.08,117.82 551.82,117.48 552.44,117.21 552.90,117.00" fill="none" stroke="#0072BD" stroke-width="4.4" stroke-linejoin="round" stroke-linecap="butt" stroke-dasharray="15.123 3.009 6.913 3.009" stroke-dashoffset="7.24"/>
<text transform="translate(104.1,22.30) scale(0.965,1)" x="0" y="0" font-family="Liberation Serif, serif" font-size="33.8" text-anchor="end">2000</text>
<text transform="translate(104.1,109.90) scale(0.965,1)" x="0" y="0" font-family="Liberation Serif, serif" font-size="33.8" text-anchor="end">1500</text>
<text transform="translate(104.1,197.80) scale(0.965,1)" x="0" y="0" font-family="Liberation Serif, serif" font-size="33.8" text-anchor="end">1000</text>
<text transform="translate(104.1,285.90) scale(0.965,1)" x="0" y="0" font-family="Liberation Serif, serif" font-size="33.8" text-anchor="end">500</text>
<text transform="translate(104.1,373.90) scale(0.965,1)" x="0" y="0" font-family="Liberation Serif, serif" font-size="33.8" text-anchor="end">0</text>
<text transform="translate(104.1,462.10) scale(0.965,1)" x="0" y="0" font-family="Liberation Serif, serif" font-size="33.8" text-anchor="end">-500</text>
<text x="113.60" y="489.9" font-family="Liberation Serif, serif" font-size="33.8" text-anchor="middle">0</text>
<text x="224.80" y="489.9" font-family="Liberation Serif, serif" font-size="33.8" text-anchor="middle">0.5</text>
<text x="335.10" y="489.9" font-family="Liberation Serif, serif" font-size="33.8" text-anchor="middle">1.0</text>
<text x="445.90" y="489.9" font-family="Liberation Serif, serif" font-size="33.8" text-anchor="middle">1.5</text>
<text x="556.70" y="489.9" font-family="Liberation Serif, serif" font-size="33.8" text-anchor="middle">2.0</text>
<text x="667.40" y="489.9" font-family="Liberation Serif, serif" font-size="33.8" text-anchor="middle">2.5</text>
<text x="390.9" y="531.7" font-family="Liberation Serif, serif" font-size="33.9" text-anchor="middle" textLength="122.6" lengthAdjust="spacingAndGlyphs">Time (s)</text>
<text transform="translate(24.8,242.7) rotate(-90)" x="0" y="0" font-family="Liberation Serif, serif" font-size="33.9" text-anchor="middle" textLength="442.9" lengthAdjust="spacingAndGlyphs">Suspension actuation force (N)</text>
<rect x="383.9" y="338.7" width="282.60" height="105.80" fill="#fff" stroke="#000" stroke-width="1.8"/>
<line x1="389.1" y1="366.7" x2="443.8" y2="366.7" stroke="#77AC30" stroke-width="4.4"/>
<line x1="389.1" y1="416.9" x2="443.6" y2="416.9" stroke="#0072BD" stroke-width="4.4" stroke-dasharray="14.8 3 7.3 3.4"/>
<text x="446.8" y="376.3" font-family="Liberation Serif, serif" font-size="28.5" textLength="157.8" lengthAdjust="spacingAndGlyphs">PID and ASS</text>
<text x="446.3" y="426.6" font-family="Liberation Serif, serif" font-size="28.5" textLength="214.1" lengthAdjust="spacingAndGlyphs">NNSMC and ASS</text>
</svg>
</body></html>
